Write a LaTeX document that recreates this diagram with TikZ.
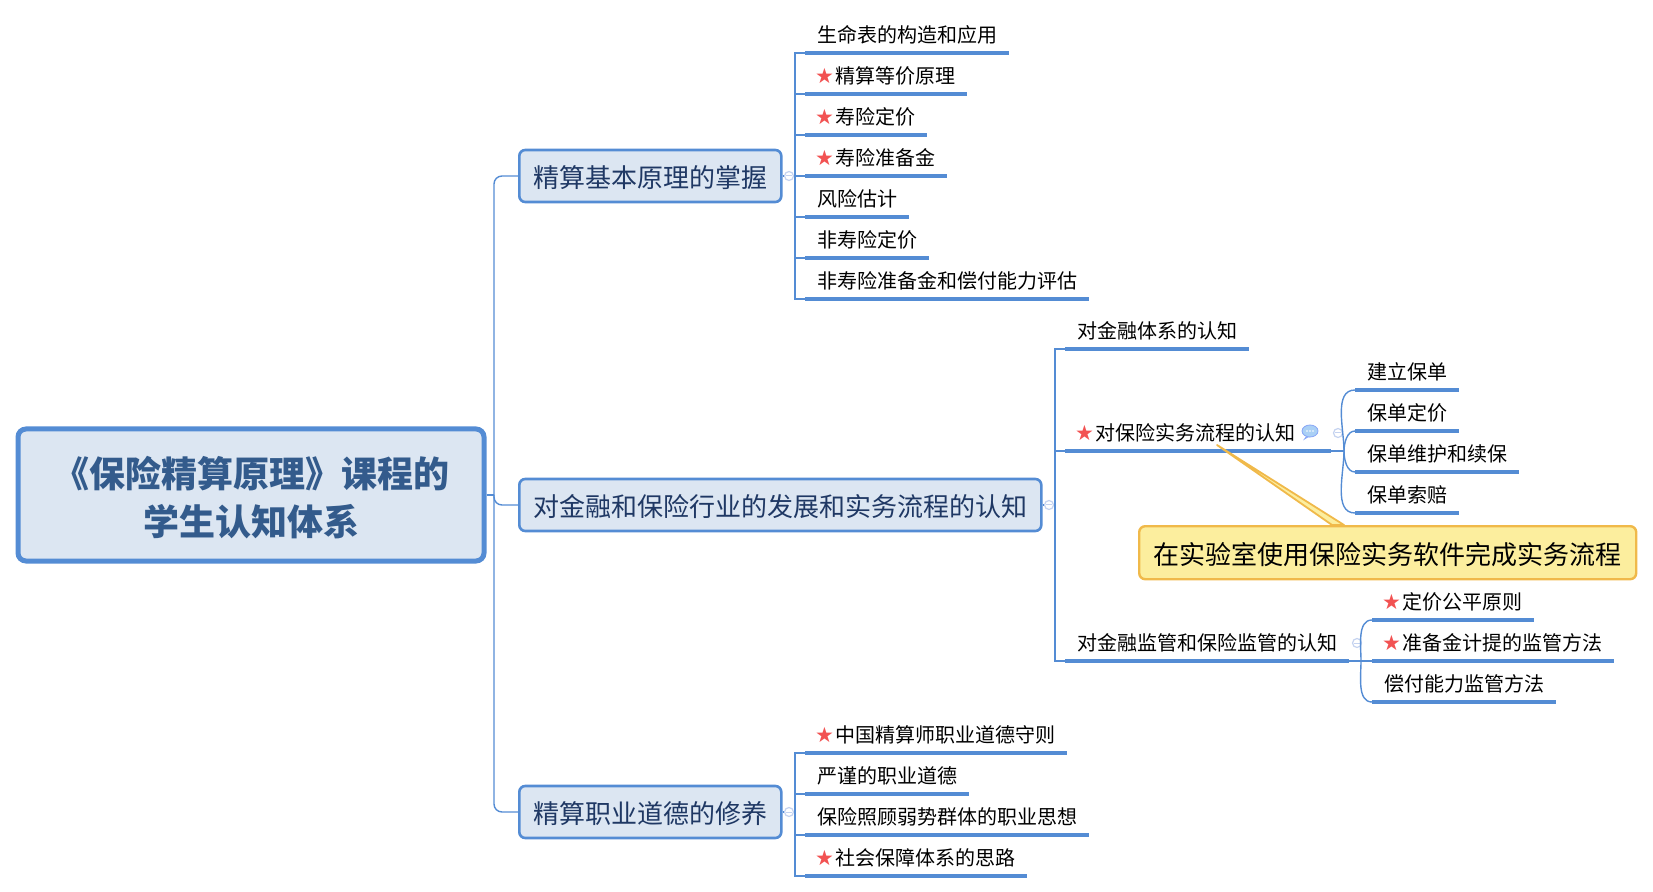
\documentclass[tikz,border=0pt]{standalone}
\usepackage{fontspec}
\setmainfont{Noto Sans CJK SC}
\newfontfamily\symfont{DejaVu Sans}
\usepackage{xcolor}
\usetikzlibrary{positioning,calc,shapes.geometric}
\definecolor{mapblue}{RGB}{84, 140, 212}
\definecolor{mapfill}{RGB}{220, 230, 242}
\definecolor{mapnavy}{RGB}{31, 56, 100}
\definecolor{rootink}{RGB}{51, 91, 140}
\definecolor{collring}{RGB}{197, 211, 240}
\definecolor{starred}{RGB}{242, 82, 82}
\definecolor{noteline}{RGB}{240, 185, 74}
\definecolor{notefill}{RGB}{252, 238, 158}
\definecolor{cmtblue}{RGB}{170, 208, 245}
\newcommand{\starmark}{\makebox[9pt][l]{\hspace{-1pt}\textcolor{starred}{\symfont\fontsize{10.5pt}{10pt}\selectfont ★}}}

\begin{document}
\begin{tikzpicture}[
    x=0.5pt, y=-0.5pt,
    rootbox/.style={draw=mapblue, line width=2.5pt, fill=mapfill, rounded corners=4pt, minimum width=233pt, minimum height=66pt, align=center, text=rootink, font=\fontsize{18pt}{24pt}\selectfont\bfseries},
    kbox/.style={draw=mapblue, line width=1.3pt, fill=mapfill, rounded corners=3pt, minimum height=26pt, inner xsep=7pt, inner ysep=0pt, text height=12.8pt, text depth=1.5pt, anchor=west, text=mapnavy, font=\fontsize{13pt}{15pt}\selectfont},
    leaf/.style={inner xsep=6pt, inner ysep=0pt, outer sep=0pt, text height=15.3pt, text depth=5.2pt, anchor=south west, font=\fontsize{10pt}{12pt}\selectfont},
    leafbelow/.style={leaf, below=0pt of #1.south west, anchor=north west},
    underline/.style={draw=mapblue, line width=1.9pt},
    link/.style={draw=mapblue, line width=0.7pt},
    coll/.style={circle, draw=collring, fill=white, line width=0.6pt, minimum size=4.5pt, inner sep=0pt, path picture={\draw[collring, line width=0.5pt] ([xshift=-1.3pt]path picture bounding box.center) -- ([xshift=1.3pt]path picture bounding box.center);}},
    note/.style={draw=noteline, line width=1.2pt, fill=notefill, rounded corners=3pt, minimum width=248.5pt, minimum height=26.5pt, inner sep=0pt, text height=12.8pt, text depth=1.5pt, font=\fontsize{13pt}{15pt}\selectfont}
]
    \useasboundingbox (0,0) rectangle (1653,892);

    % Root Card
    \node[rootbox] (root) at (251,495) {\rule{0pt}{18.5pt}《保险精算原理》课程的\\学生认知体系};

    % Three Main Cards
    \node[kbox] (jiben) at (518,176) {精算基本原理的掌握};
    \node[kbox] (hangye) at (518,505) {对金融和保险行业的发展和实务流程的认知};
    \node[kbox] (daode) at (518,812) {精算职业道德的修养};

    % Trunk
    \coordinate (trunk) at (494,495);
    \draw[link] (root.east) -- (trunk);
    \foreach \n in {jiben,hangye,daode}
        \draw[link, rounded corners=4pt] (trunk) |- (\n.west);

    % Collapse Marks
    \node[coll] (colA) at (789,176) {};
    \node[coll] (colB) at (1049,505) {};
    \node[coll] (colC) at (789,812) {};
    \node[coll] (colD) at (1338,433) {};
    \node[coll] (colE) at (1357,643) {};

    % First Group
    \node[leaf] (jb1) at (805,53) {生命表的构造和应用};
    \node[leafbelow=jb1] (jb2) {\starmark 精算等价原理};
    \node[leafbelow=jb2] (jb3) {\starmark 寿险定价};
    \node[leafbelow=jb3] (jb4) {\starmark 寿险准备金};
    \node[leafbelow=jb4] (jb5) {风险估计};
    \node[leafbelow=jb5] (jb6) {非寿险定价};
    \node[leafbelow=jb6] (jb7) {非寿险准备金和偿付能力评估};

    % Second Group
    \node[leaf] (fz1) at (1065,349) {对金融体系的认知};
    \node[leaf] (fz2) at (1065,451) {\starmark 对保险实务流程的认知\rule{12pt}{0pt}};
    \node[leaf] (fz3) at (1065,661) {对金融监管和保险监管的认知};

    % Insurance Process Leaves
    \node[leaf] (lc1) at (1355,390) {建立保单};
    \node[leafbelow=lc1] (lc2) {保单定价};
    \node[leafbelow=lc2] (lc3) {保单维护和续保};
    \node[leafbelow=lc3] (lc4) {保单索赔};

    % Supervision Leaves
    \node[leaf] (jg1) at (1372,620) {\starmark 定价公平原则};
    \node[leafbelow=jg1] (jg2) {\starmark 准备金计提的监管方法};
    \node[leafbelow=jg2] (jg3) {偿付能力监管方法};

    % Third Group
    \node[leaf] (dd1) at (805,753) {\starmark 中国精算师职业道德守则};
    \node[leafbelow=dd1] (dd2) {严谨的职业道德};
    \node[leafbelow=dd2] (dd3) {保险照顾弱势群体的职业思想};
    \node[leafbelow=dd3] (dd4) {\starmark 社会保障体系的思路};

    % Underlines
    \foreach \n in {jb1,jb2,jb3,jb4,jb5,jb6,jb7,fz1,fz2,fz3,lc1,lc2,lc3,lc4,jg1,jg2,jg3,dd1,dd2,dd3,dd4}
        \draw[underline] (\n.south west) -- (\n.south east);

    % Square Spines
    \draw[link] (jiben.east) -- (colA.west);
    \draw[link] (hangye.east) -- (colB.west);
    \draw[link] (daode.east) -- (colC.west);
    \coordinate (spA) at (795,176);
    \coordinate (spB) at (1055,505);
    \coordinate (spC) at (795,812);
    \draw[link] (colA.east) -- (spA);
    \draw[link] (colB.east) -- (spB);
    \draw[link] (colC.east) -- (spC);
    \foreach \n in {jb1,jb2,jb3,jb4,jb5,jb6,jb7}
        \draw[link] (spA) |- (\n.south west);
    \foreach \n in {fz1,fz2,fz3}
        \draw[link] (spB) |- (\n.south west);
    \foreach \n in {dd1,dd2,dd3,dd4}
        \draw[link] (spC) |- (\n.south west);

    % Curved Spines
    \coordinate (spD) at (1344,451);
    \coordinate (spE) at (1361,661);
    \draw[link] (fz2.south east) -- (spD);
    \draw[link] (fz3.south east) -- (spE);
    \foreach \n in {lc1,lc2}
        \draw[link] (spD) to[out=90, in=180, looseness=0.9] (\n.south west);
    \foreach \n in {lc3,lc4}
        \draw[link] (spD) to[out=-90, in=180, looseness=0.9] (\n.south west);
    \draw[link] (spE) to[out=90, in=180, looseness=0.9] (jg1.south west);
    \draw[link] (spE) -- (jg2.south west);
    \draw[link] (spE) to[out=-90, in=180, looseness=0.9] (jg3.south west);

    % Comment Icon
    \node[ellipse, draw=cmtblue!80!blue, fill=cmtblue, line width=0.4pt, minimum width=8pt, minimum height=6pt, inner sep=0pt] (cmt) at (1310,431) {};
    \fill[cmtblue!80!blue] (cmt.south) -- ++(-2,0) -- ++(-5,3) -- ++(3,-4) -- cycle;
    \foreach \k in {-3,0,3}
        \fill[white] ($(cmt.center)+(\k,0)$) circle (0.45pt);

    % Note Card
    \node[note, anchor=north west] (memo) at (1138,525) {在实验室使用保险实务软件完成实务流程};
    \coordinate (memotip) at (1217,445);
    \draw[draw=noteline, fill=notefill, line width=0.9pt, line join=round] (memotip) -- ([xshift=97pt]memo.north west) -- ([xshift=103pt]memo.north west) -- cycle;
\end{tikzpicture}
\end{document}
